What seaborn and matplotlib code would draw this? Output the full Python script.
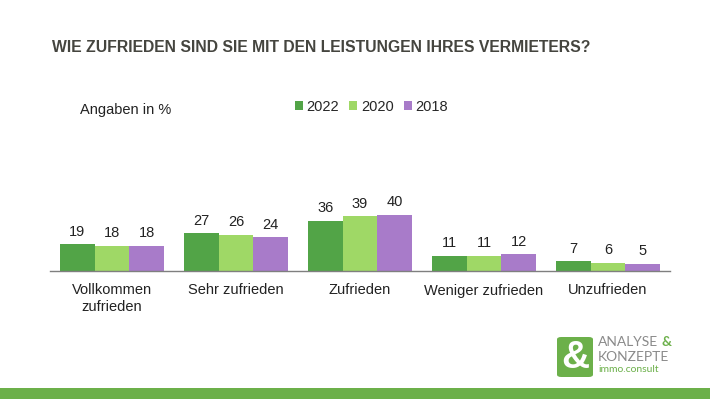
import pandas as pd
import matplotlib.pyplot as plt
import seaborn as sns
from matplotlib.patches import FancyBboxPatch, Rectangle

sns.set_theme(style="white")
plt.rcParams["font.family"] = ["Liberation Sans", "DejaVu Sans"]

categories = ["Vollkommen\nzufrieden", "Sehr zufrieden", "Zufrieden", "Weniger zufrieden", "Unzufrieden"]
years = ["2022", "2020", "2018"]
v2022 = [19, 27, 36, 11, 7]
v2020 = [18, 26, 39, 11, 6]
v2018 = [18, 24, 40, 12, 5]
colors = ["#52a447", "#9fd866", "#a87bc9"]

rows = []
for year, vals in zip(years, [v2022, v2020, v2018]):
    for cat, v in zip(categories, vals):
        rows.append({"Kategorie": cat, "Jahr": year, "Wert": v})
df = pd.DataFrame(rows)

fig = plt.figure(figsize=(7.1, 3.99), dpi=100)
ax = fig.add_axes([50 / 710, 128 / 399, 620 / 710, 121 / 399])

sns.barplot(data=df, x="Kategorie", y="Wert", hue="Jahr", palette=colors,
            width=0.84, saturation=1, linewidth=0, ax=ax, legend=True)

for cont in ax.containers:
    ax.bar_label(cont, padding=4, fontsize=10.5, color="#222222")

ax.set_xlim(-0.5, 4.5)
ax.set_ylim(0, 86.4)
ax.set_xlabel("")
ax.set_ylabel("")
ax.set_yticks([])
for s in ["top", "right", "left"]:
    ax.spines[s].set_visible(False)
ax.spines["bottom"].set_color("#7f7f7f")
ax.spines["bottom"].set_linewidth(1.0)
ax.tick_params(axis="x", length=0, pad=9, labelsize=10.5, labelcolor="#222222")

handles, labels = ax.get_legend_handles_labels()
ax.get_legend().remove()
fig.legend(handles, labels, loc="center left", bbox_to_anchor=(289 / 710, 1 - 107 / 399),
           ncol=3, frameon=False, fontsize=10.5, handlelength=0.55, handleheight=0.55,
           handletextpad=0.25, columnspacing=0.7, borderaxespad=0)

fig.text(52 / 710, 1 - 47 / 399, "WIE ZUFRIEDEN SIND SIE MIT DEN LEISTUNGEN IHRES VERMIETERS?",
         fontsize=11.3, fontweight="bold", color="#45453f", va="center", ha="left")
fig.text(80 / 710, 1 - 110 / 399, "Angaben in %", fontsize=10.5, color="#222222", va="center", ha="left")

# bottom band
fig.patches.append(Rectangle((0, 0), 1, 11 / 399, transform=fig.transFigure,
                             facecolor="#6cb04a", edgecolor="none"))

# logo
fig.patches.append(FancyBboxPatch((557 / 710, 1 - 377 / 399), 36 / 710, 40 / 399,
                                  boxstyle="round,pad=0,rounding_size=0.006",
                                  transform=fig.transFigure, facecolor="#6cb04a", edgecolor="none"))
fig.text(575 / 710, 1 - 358 / 399, "&", fontsize=28, fontweight="bold", color="white",
         ha="center", va="center")
fig.text(598 / 710, 1 - 342 / 399, "ANALYSE", fontsize=10, color="#8a8a8a", ha="left", va="center",
         family="Lato")
fig.text(662 / 710, 1 - 342 / 399, "&", fontsize=10, color="#6cb04a", ha="left", va="center",
         family="Lato", fontweight="bold")
fig.text(598 / 710, 1 - 357 / 399, "KONZEPTE", fontsize=10, color="#8a8a8a", ha="left", va="center",
         family="Lato")
fig.text(598 / 710, 1 - 370 / 399, "immo.consult", fontsize=7.5, color="#6cb04a", ha="left", va="center",
         family="Lato")

fig.savefig("out.png", dpi=100)
